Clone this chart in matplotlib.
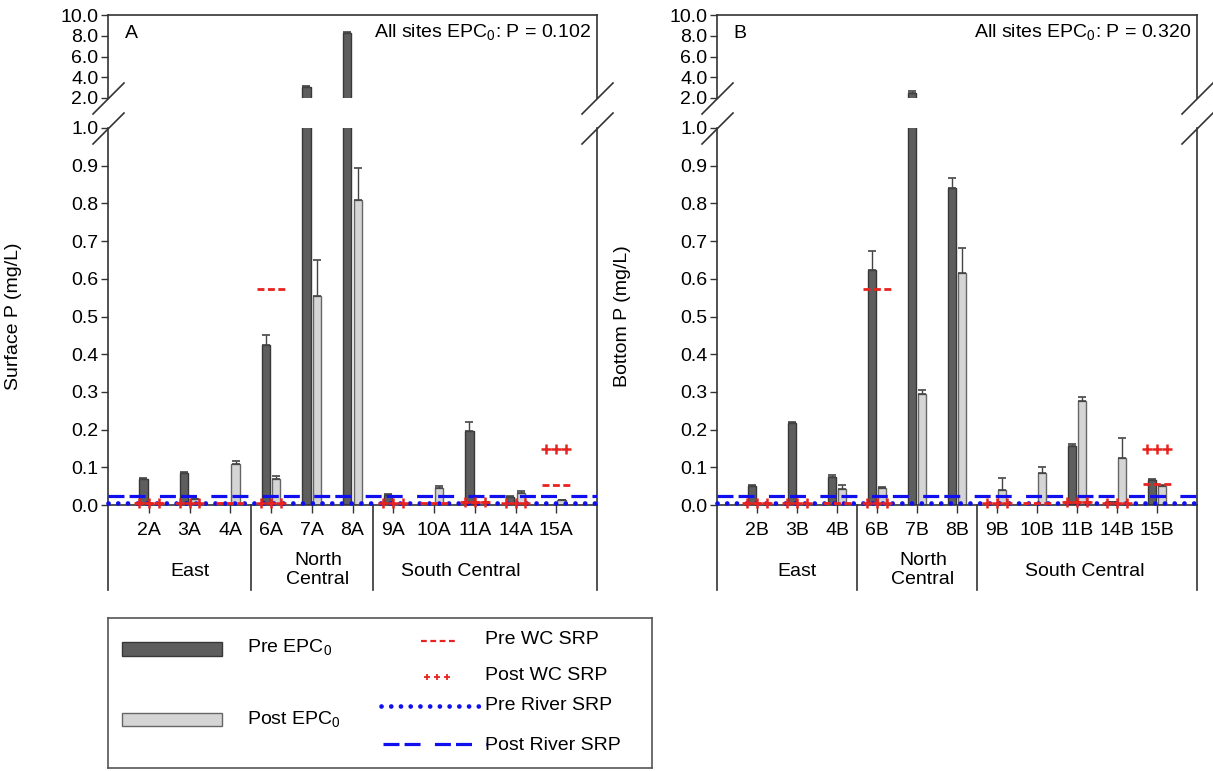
import numpy as np
import matplotlib
matplotlib.use("Agg")
import matplotlib.pyplot as plt
from matplotlib.patches import Rectangle
from matplotlib.lines import Line2D

plt.rcParams['font.family'] = ['Liberation Sans', 'DejaVu Sans']
plt.rcParams['font.size'] = 14
plt.rcParams['mathtext.fontset'] = 'custom'
plt.rcParams['mathtext.rm'] = 'Liberation Sans'

#data (mg/L)
groups = ['East', 'North\nCentral', 'South Central']

sites_a = ['2A', '3A', '4A', '6A', '7A', '8A', '9A', '10A', '11A', '14A', '15A']
pre_a = [0.068, 0.086, 0.004, 0.425, 3.05, 8.25, 0.027, 0.0, 0.195, 0.022, 0.0]
pre_err_a = [0.003, 0.002, 0.0, 0.025, 0.15, 0.1, 0.002, 0.0, 0.025, 0.002, 0.0]
post_a = [0.0, 0.015, 0.108, 0.07, 0.555, 0.808, 0.0, 0.045, 0.0, 0.032, 0.012]
post_err_a = [0.0, 0.002, 0.01, 0.008, 0.095, 0.087, 0.0, 0.005, 0.0, 0.004, 0.002]
pre_wc_a = [0.006, np.nan, 0.006, 0.572, np.nan, np.nan, np.nan, 0.006, 0.008, np.nan, 0.052]
post_wc_a = [0.006, 0.006, np.nan, 0.006, np.nan, np.nan, 0.006, np.nan, 0.008, 0.006, 0.148]

sites_b = ['2B', '3B', '4B', '6B', '7B', '8B', '9B', '10B', '11B', '14B', '15B']
pre_b = [0.05, 0.218, 0.075, 0.623, 2.5, 0.84, 0.0, 0.0, 0.157, 0.008, 0.066]
pre_err_b = [0.003, 0.002, 0.005, 0.052, 0.2, 0.027, 0.0, 0.0, 0.004, 0.001, 0.004]
post_b = [0.0, 0.0, 0.043, 0.045, 0.295, 0.615, 0.04, 0.086, 0.275, 0.125, 0.05]
post_err_b = [0.0, 0.0, 0.011, 0.004, 0.01, 0.068, 0.031, 0.014, 0.012, 0.053, 0.003]
pre_wc_b = [0.006, np.nan, 0.006, 0.572, np.nan, np.nan, np.nan, 0.006, 0.008, np.nan, 0.055]
post_wc_b = [0.006, 0.006, np.nan, 0.006, np.nan, np.nan, 0.006, np.nan, 0.008, 0.006, 0.148]

pre_river = 0.005
post_river = 0.025

#colours
dark, dark_edge = '#5e5e5e', '#383838'
light, light_edge = '#d5d5d5', '#666666'
red = '#e8231f'
blue = '#1010ee'
ink = '#333333'

W, H = 1213, 771
fig = plt.figure(figsize=(W / 100, H / 100), dpi=100)


def fx(px):
    return px / W


def fy(px):
    return 1 - px / H


def slash(xc, yc):
    #break marks drawn in figure pixels
    fig.add_artist(Line2D([fx(xc - 15), fx(xc + 16)], [fy(yc + 16), fy(yc - 15)],
                          color=ink, lw=1.2))


def draw_wc(ax, x, pre_wc, post_wc):
    for xi, v in zip(x, pre_wc):
        if not np.isnan(v):
            ax.plot([xi - 0.34, xi + 0.34], [v, v], color=red, lw=2,
                    linestyle=(0, (2.5, 1.25)), clip_on=False, zorder=6)
    for xi, v in zip(x, post_wc):
        if not np.isnan(v):
            ax.plot(xi + np.array([-0.24, 0, 0.24]), [v] * 3, '+', color=red,
                    ms=7, mew=1.8, clip_on=False, zorder=6)


def panel(left, right, sites, pre, pre_err, post, post_err, pre_wc, post_wc,
          letter, ptext, ylabel, ylabel_px, south_x):
    width = fx(right) - fx(left)
    ax_t = fig.add_axes([fx(left), fy(98), width, fy(15) - fy(98)])
    ax_b = fig.add_axes([fx(left), fy(505), width, fy(128) - fy(505)])
    x = np.arange(1, len(sites) + 1)
    pre = np.array(pre); post = np.array(post)
    pre_err = np.array(pre_err); post_err = np.array(post_err)

    for ax in (ax_t, ax_b):
        m = pre > 0
        ax.bar(x[m] - 0.13, pre[m], width=0.2, color=dark, edgecolor=dark_edge, lw=1, zorder=2)
        m = post > 0
        ax.bar(x[m] + 0.13, post[m], width=0.2, color=light, edgecolor=light_edge, lw=1, zorder=2)
        m = pre_err > 0
        ax.errorbar(x[m] - 0.13, pre[m], yerr=[np.zeros(m.sum()), pre_err[m]], fmt='none',
                    ecolor='#444444', elinewidth=1, capsize=3, capthick=1.2, zorder=3)
        m = post_err > 0
        ax.errorbar(x[m] + 0.13, post[m], yerr=[np.zeros(m.sum()), post_err[m]], fmt='none',
                    ecolor='#444444', elinewidth=1, capsize=3, capthick=1.2, zorder=3)
        ax.set_xlim(0, len(sites) + 1)
        for s in ax.spines.values():
            s.set_color(ink)
            s.set_linewidth(1.2)
        ax.tick_params(axis='y', direction='out', length=5, width=1, color=ink, pad=2)

    #upper segment
    ax_t.set_ylim(2, 10)
    ax_t.set_yticks([2, 4, 6, 8, 10])
    ax_t.set_yticklabels(['%.1f' % v for v in [2, 4, 6, 8, 10]])
    ax_t.spines['bottom'].set_visible(False)
    ax_t.set_xticks([])
    ax_t.text(0.035, 0.78, letter, transform=ax_t.transAxes, ha='left', va='center')
    ax_t.text(0.988, 0.78, ptext, transform=ax_t.transAxes, ha='right', va='center')

    #lower segment
    ax_b.set_ylim(0, 1.0)
    yt = np.round(np.arange(0, 1.01, 0.1), 1)
    ax_b.set_yticks(yt)
    ax_b.set_yticklabels(['%.1f' % v for v in yt])
    ax_b.spines['top'].set_visible(False)
    ax_b.set_xticks(x)
    ax_b.set_xticklabels(sites)
    ax_b.tick_params(axis='x', direction='out', length=6, width=1, color=ink, pad=6)
    ax_b.set_ylabel(ylabel)
    ax_b.yaxis.set_label_coords(-(left - ylabel_px) / (right - left), 0.5)

    #river SRP lines and water column SRP marks
    ax_b.axhline(post_river, color=blue, lw=2.3, linestyle=(0, (5.0, 1.6, 5.0, 4.5)), zorder=5)
    ax_b.axhline(pre_river, color=blue, lw=3.4, linestyle=(0, (0.01, 2.05)),
                 dash_capstyle='round', clip_on=False, zorder=5)
    draw_wc(ax_b, x, pre_wc, post_wc)

    #group separators and labels below the axis
    tr = ax_b.get_xaxis_transform()
    for xs in [0, 3.5, 6.5, len(sites) + 1]:
        ax_b.plot([xs, xs], [0, -0.226], transform=tr, color=ink, lw=1.2, clip_on=False)
    ax_b.text(2.0, -0.177, groups[0], transform=tr, ha='center', va='center')
    ax_b.text(5.15, -0.172, groups[1], transform=tr, ha='center', va='center', linespacing=1.2)
    ax_b.text(south_x, -0.177, groups[2], transform=tr, ha='center', va='center')

    for xc in (left, right):
        slash(xc, 98)
        slash(xc, 128)


panel(108, 597, sites_a, pre_a, pre_err_a, post_a, post_err_a, pre_wc_a, post_wc_a,
      'A', r'All sites EPC$_\mathregular{0}$: P = 0.102', 'Surface P (mg/L)', 22, 8.65)
panel(717, 1197, sites_b, pre_b, pre_err_b, post_b, post_err_b, pre_wc_b, post_wc_b,
      'B', r'All sites EPC$_\mathregular{0}$: P = 0.320', 'Bottom P (mg/L)', 631, 9.2)

#legend box, laid out in pixels relative to its top-left corner
lg = fig.add_axes([fx(108), fy(768), fx(652) - fx(108), fy(618) - fy(768)])
lg.set_xlim(0, 544)
lg.set_ylim(150, 0)
lg.set_xticks([]); lg.set_yticks([])
for s in lg.spines.values():
    s.set_color('#555555')
    s.set_linewidth(1.2)
lg.add_patch(Rectangle((14, 24), 100, 14, facecolor=dark, edgecolor=dark_edge, lw=1))
lg.add_patch(Rectangle((14, 95), 100, 13, facecolor=light, edgecolor=light_edge, lw=1))
lg.text(139, 30, r'Pre EPC$_\mathregular{0}$', va='center')
lg.text(139, 102, r'Post EPC$_\mathregular{0}$', va='center')
lg.plot([313, 347], [23, 23], color=red, lw=1.6, linestyle=(0, (2.6, 1.6)))
lg.plot([319, 329, 339], [59, 59, 59], '+', color=red, ms=5, mew=1.3)
lg.plot([273, 379], [88, 88], color=blue, lw=3.4, linestyle=(0, (0.01, 2.05)), dash_capstyle='round')
lg.plot([275, 379], [126, 126], color=blue, lw=2.3, linestyle=(0, (5.0, 1.6, 5.0, 4.5)))
lg.text(377, 22, 'Pre WC SRP', va='center')
lg.text(377, 58, 'Post WC SRP', va='center')
lg.text(377, 88, 'Pre River SRP', va='center')
lg.text(377, 127, 'Post River SRP', va='center')

fig.savefig('out.png', dpi=100)
